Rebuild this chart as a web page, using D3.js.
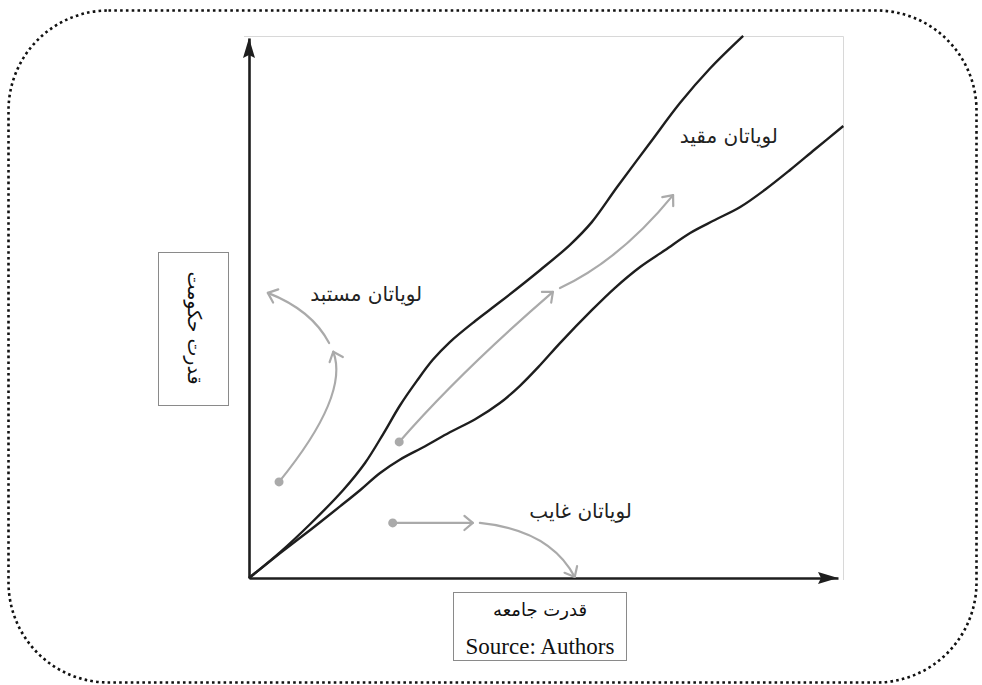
<!DOCTYPE html>
<html>
<head>
<meta charset="utf-8">
<script src="https://cdn.jsdelivr.net/npm/d3@7/dist/d3.min.js"></script>
<style>
  html, body { margin: 0; padding: 0; background: #fff; }
  svg { display: block; }
</style>
</head>
<body>
<svg id="chart" width="982" height="685"></svg>
<script>
// ---- data (conceptual units 0..100) ----
const upperX = [0, 5.3, 10.4, 16.0, 19.7, 22.8, 25.6, 28.5, 31.2, 34.1, 38.4, 42.6, 49.4, 54.5, 58.2, 62.5, 68.1, 73.2, 78.3, 83.9];
const upperY = [0, 4.8, 10.0, 16.3, 21.3, 26.7, 31.9, 36.5, 40.4, 43.7, 47.6, 51.1, 57.0, 61.7, 65.9, 72.4, 80.6, 88.0, 94.4, 100.4];
const lowerX = [0, 5.3, 10.4, 15.5, 18.9, 22.2, 25.6, 29.9, 34.1, 38.4, 42.6, 46.0, 49.4, 52.8, 58.2, 62.1, 66.4, 70.6, 74.9, 79.1, 83.4, 87.6, 91.9, 96.1, 100.9];
const lowerY = [0, 4.6, 8.9, 13.3, 16.3, 19.4, 21.9, 24.4, 27.0, 29.4, 32.4, 35.6, 39.4, 43.5, 49.6, 53.7, 57.6, 60.7, 63.9, 66.3, 68.7, 71.9, 75.6, 79.4, 83.7];

// gray arrows: [startX, startY, ctrlX, ctrlY, endX, endY]
const arrowDespotic = [[5.1, 17.8, 17.1, 33.9, 14.3, 41.9], [13.6, 43.5, 10.7, 49.6, 3.2, 52.8]];
const arrowShackled = [[25.5, 25.2, 35.8, 38.1, 51.6, 53.0], [52.8, 53.7, 63.0, 58.9, 72.0, 70.9]];
const arrowAbsent   = [[24.4, 10.2, 31.2, 10.2, 38.0, 10.2], [39.2, 10.2, 51.1, 8.9, 55.3, 0.2]];
const dotsX = [5.1, 25.5, 24.4];
const dotsY = [17.8, 25.2, 10.2];

const labelTexts = ["لویاتان مستبد", "لویاتان مقید", "لویاتان غایب"];
const labelX = [29.4, 89.8, 65.0];
const labelY = [52.4, 81.5, 12.2];

const yTitle = "قدرت حکومت";
const xTitle = "قدرت جامعه";
const sourceText = "Source: Authors";

// ---- drawing ----
const svg = d3.select("#chart");
const x = d3.scaleLinear().domain([0, 100]).range([249, 838]);
const y = d3.scaleLinear().domain([0, 100]).range([578, 38]);

// outer dotted rounded frame
svg.append("rect")
  .attr("x", 8.5).attr("y", 10.5).attr("width", 968).attr("height", 672)
  .attr("rx", 100).attr("ry", 100)
  .attr("fill", "none").attr("stroke", "#111")
  .attr("stroke-width", 2.6).attr("stroke-dasharray", "2.6 3.2");

// faint frame of diagram (top and right edges)
svg.append("path")
  .attr("d", `M244,36.5H843.5V580`)
  .attr("fill", "none").attr("stroke", "#d8d8d8").attr("stroke-width", 1);

const ink = "#1e1e1e";
const gray = "#aaaaaa";

// axes
const gx = svg.append("g").attr("transform", `translate(0,${y(0)})`)
  .call(d3.axisBottom(x).ticks(0).tickSizeOuter(0));
const gy = svg.append("g").attr("transform", `translate(${x(0)},0)`)
  .call(d3.axisLeft(y).ticks(0).tickSizeOuter(0));
[gx, gy].forEach(g => g.select(".domain").attr("stroke", ink).attr("stroke-width", 2.6));

// axis arrowheads
const x1 = x.range()[1], y0 = y(0), x0 = x(0), y1 = y.range()[1];
svg.append("path")
  .attr("d", `M${x1},${y0} L${x1 - 20},${y0 - 6} L${x1 - 17},${y0} L${x1 - 20},${y0 + 6} Z`)
  .attr("fill", ink);
svg.append("path")
  .attr("d", `M${x0},${y1} L${x0 - 6},${y1 + 20} L${x0},${y1 + 17} L${x0 + 6},${y1 + 20} Z`)
  .attr("fill", ink);

// corridor curves
const line = d3.line().x(d => x(d[0])).y(d => y(d[1])).curve(d3.curveCatmullRom.alpha(0.5));
svg.append("path").datum(upperX.map((v, i) => [v, upperY[i]]))
  .attr("d", line).attr("fill", "none").attr("stroke", ink).attr("stroke-width", 2.4);
svg.append("path").datum(lowerX.map((v, i) => [v, lowerY[i]]))
  .attr("d", line).attr("fill", "none").attr("stroke", ink).attr("stroke-width", 2.4);

// gray arrows
function drawArrow(a) {
  const sx = x(a[0]), sy = y(a[1]), cx = x(a[2]), cy = y(a[3]), ex = x(a[4]), ey = y(a[5]);
  const p = d3.path();
  p.moveTo(sx, sy);
  p.quadraticCurveTo(cx, cy, ex, ey);
  svg.append("path").attr("d", p.toString())
    .attr("fill", "none").attr("stroke", gray).attr("stroke-width", 2.2).attr("stroke-linecap", "round");
  const ang = Math.atan2(ey - cy, ex - cx);
  const L = 11, sp = 0.7;
  const h = d3.path();
  h.moveTo(ex - L * Math.cos(ang - sp), ey - L * Math.sin(ang - sp));
  h.lineTo(ex, ey);
  h.lineTo(ex - L * Math.cos(ang + sp), ey - L * Math.sin(ang + sp));
  svg.append("path").attr("d", h.toString())
    .attr("fill", "none").attr("stroke", gray).attr("stroke-width", 2.2)
    .attr("stroke-linecap", "round").attr("stroke-linejoin", "round");
}
[...arrowDespotic, ...arrowShackled, ...arrowAbsent].forEach(drawArrow);

svg.selectAll("circle.dot").data(dotsX).enter().append("circle")
  .attr("class", "dot")
  .attr("cx", d => x(d)).attr("cy", (d, i) => y(dotsY[i]))
  .attr("r", 4.5).attr("fill", gray);

// labels
const arFont = "'DejaVu Sans', 'Noto Sans', sans-serif";
svg.selectAll("text.lab").data(labelTexts).enter().append("text")
  .attr("class", "lab")
  .attr("x", (d, i) => x(labelX[i])).attr("y", (d, i) => y(labelY[i]))
  .attr("text-anchor", "end").attr("dominant-baseline", "middle")
  .attr("font-family", arFont).attr("font-size", 20).attr("fill", "#222")
  .text(d => d);

// y title box
svg.append("rect").attr("x", 158.5).attr("y", 252.5).attr("width", 70).attr("height", 153)
  .attr("fill", "#fff").attr("stroke", "#8a8a8a").attr("stroke-width", 1);
svg.append("text")
  .attr("transform", "translate(193,328) rotate(90)")
  .attr("text-anchor", "middle").attr("dominant-baseline", "middle")
  .attr("font-family", arFont).attr("font-size", 19).attr("fill", "#111")
  .text(yTitle);

// x title box
svg.append("rect").attr("x", 453.5).attr("y", 592.5).attr("width", 173).attr("height", 68)
  .attr("fill", "#fff").attr("stroke", "#8a8a8a").attr("stroke-width", 1);
svg.append("text")
  .attr("x", 540).attr("y", 611)
  .attr("text-anchor", "middle").attr("dominant-baseline", "middle")
  .attr("font-family", arFont).attr("font-size", 18).attr("fill", "#111")
  .text(xTitle);
svg.append("text")
  .attr("x", 540).attr("y", 649)
  .attr("text-anchor", "middle").attr("dominant-baseline", "middle")
  .attr("font-family", "'Liberation Serif', 'Times New Roman', serif").attr("font-size", 23).attr("fill", "#111")
  .text(sourceText);
</script>
</body>
</html>
